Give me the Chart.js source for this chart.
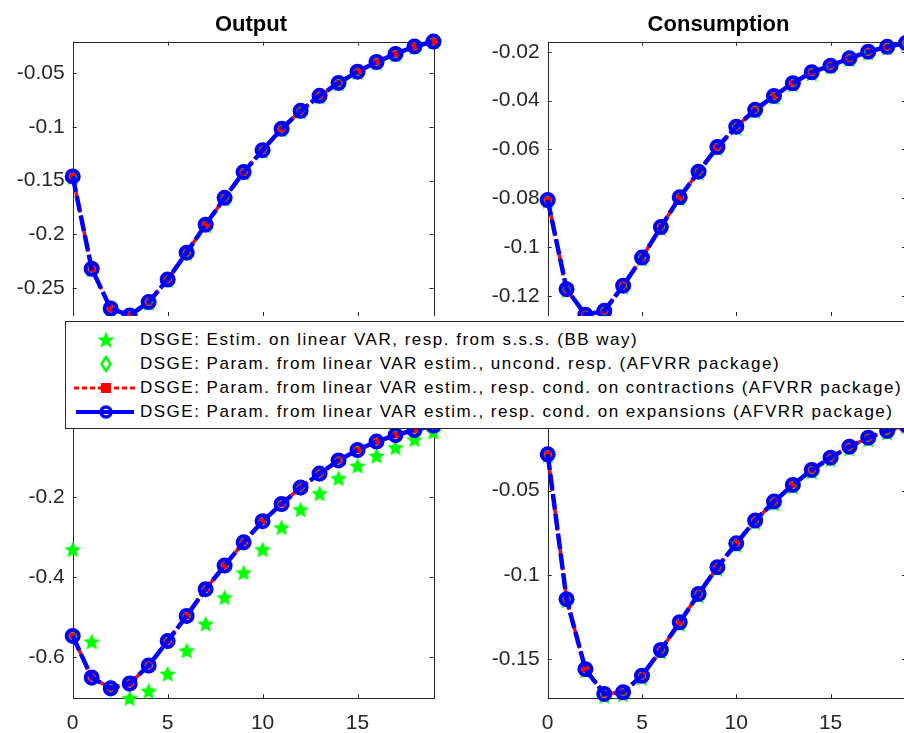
<!DOCTYPE html>
<html>
<head>
<meta charset="utf-8">
<script src="https://cdn.jsdelivr.net/npm/chart.js@4.4.1/dist/chart.umd.min.js"></script>
<style>
body { margin:0; width:904px; height:733px; overflow:hidden; background:#fff; position:relative; font-family:"Liberation Sans", Arial, sans-serif; }
canvas { position:absolute; }
#legend { position:absolute; left:65px; top:321px; width:860px; height:106px; background:#fff; border:1px solid #262626; }
.row { position:absolute; left:0; height:24px; line-height:24px; font-size:17px; letter-spacing:1.5px; color:#000; white-space:nowrap; }
.row svg { position:absolute; left:8px; top:2px; }
.row span { position:absolute; left:74px; }
</style>
</head>
<body>
<canvas id="c1" width="452" height="316" style="left:0;top:0"></canvas>
<canvas id="c2" width="450" height="316" style="left:460px;top:0"></canvas>
<canvas id="c3" width="452" height="333" style="left:0;top:400px"></canvas>
<canvas id="c4" width="450" height="333" style="left:460px;top:400px"></canvas>
<div id="legend"></div>
<script>
// horizons and ticks
const horizon = [0,1,2,3,4,5,6,7,8,9,10,11,12,13,14,15,16,17,18,19];
const xTicks = [0,5,10,15];

const legendLabels = [
  'DSGE: Estim. on linear VAR, resp. from s.s.s. (BB way)',
  'DSGE: Param. from linear VAR estim., uncond. resp. (AFVRR package)',
  'DSGE: Param. from linear VAR estim., resp. cond. on contractions (AFVRR package)',
  'DSGE: Param. from linear VAR estim., resp. cond. on expansions (AFVRR package)'
];

// Output (top left)
const outputTicks = [-0.25,-0.2,-0.15,-0.1,-0.05];
const outputStar = [-0.147,-0.233,-0.270,-0.276,-0.264,-0.243,-0.218,-0.192,-0.167,-0.143,-0.1225,-0.1025,-0.0858,-0.0718,-0.0598,-0.0493,-0.0403,-0.0328,-0.0258,-0.0208];
const outputUncond = [-0.146,-0.232,-0.269,-0.2755,-0.263,-0.242,-0.217,-0.191,-0.166,-0.142,-0.1216,-0.1017,-0.085,-0.071,-0.059,-0.0485,-0.0395,-0.032,-0.025,-0.0205];
const outputContr = [-0.146,-0.232,-0.269,-0.2755,-0.263,-0.242,-0.217,-0.191,-0.166,-0.142,-0.1216,-0.1017,-0.085,-0.071,-0.059,-0.0485,-0.0395,-0.032,-0.025,-0.0205];
const outputExpan = [-0.146,-0.232,-0.269,-0.2755,-0.263,-0.242,-0.217,-0.191,-0.166,-0.142,-0.1216,-0.1017,-0.085,-0.071,-0.059,-0.0485,-0.0395,-0.032,-0.025,-0.0205];

// Consumption (top right)
const consTicks = [-0.12,-0.1,-0.08,-0.06,-0.04,-0.02];
const consStar = [-0.0812,-0.1178,-0.1282,-0.1267,-0.1164,-0.1049,-0.0924,-0.0802,-0.0697,-0.0596,-0.0513,-0.0444,-0.0387,-0.0335,-0.029,-0.0262,-0.0232,-0.0205,-0.0184,-0.0168];
const consUncond = [-0.0807,-0.1172,-0.1277,-0.1261,-0.1158,-0.1043,-0.0918,-0.0796,-0.0691,-0.059,-0.0507,-0.0438,-0.0381,-0.0329,-0.0284,-0.0257,-0.0227,-0.0200,-0.0180,-0.0164];
const consContr = [-0.0807,-0.1172,-0.1277,-0.1261,-0.1158,-0.1043,-0.0918,-0.0796,-0.0691,-0.059,-0.0507,-0.0438,-0.0381,-0.0329,-0.0284,-0.0257,-0.0227,-0.0200,-0.0180,-0.0164];
const consExpan = [-0.0807,-0.1172,-0.1277,-0.1261,-0.1158,-0.1043,-0.0918,-0.0796,-0.0691,-0.059,-0.0507,-0.0438,-0.0381,-0.0329,-0.0284,-0.0257,-0.0227,-0.0200,-0.0180,-0.0164];

// bottom left
const blTicks = [-0.6,-0.4,-0.2];
const blStar = [-0.332,-0.5625,-0.675,-0.704,-0.686,-0.643,-0.585,-0.518,-0.452,-0.39,-0.332,-0.277,-0.232,-0.192,-0.154,-0.123,-0.098,-0.077,-0.057,-0.038];
const blUncond = [-0.550,-0.655,-0.682,-0.669,-0.624,-0.563,-0.500,-0.433,-0.374,-0.316,-0.263,-0.220,-0.179,-0.144,-0.111,-0.085,-0.064,-0.048,-0.035,-0.024];
const blContr = [-0.548,-0.652,-0.679,-0.667,-0.622,-0.561,-0.498,-0.431,-0.372,-0.314,-0.261,-0.218,-0.177,-0.142,-0.109,-0.083,-0.062,-0.046,-0.033,-0.022];
const blExpan = [-0.548,-0.652,-0.679,-0.667,-0.622,-0.561,-0.498,-0.431,-0.372,-0.314,-0.261,-0.218,-0.177,-0.142,-0.109,-0.083,-0.062,-0.046,-0.033,-0.022];

// bottom right
const brTicks = [-0.15,-0.1,-0.05];
const brStar = [-0.0292,-0.1155,-0.1572,-0.1722,-0.1712,-0.1612,-0.1459,-0.1294,-0.1126,-0.0967,-0.0825,-0.069,-0.0577,-0.0478,-0.0389,-0.0316,-0.0251,-0.0197,-0.0157,-0.0120];
const brUncond = [-0.0284,-0.1145,-0.1561,-0.1708,-0.1698,-0.160,-0.1447,-0.1282,-0.1114,-0.0955,-0.0813,-0.0678,-0.0565,-0.0466,-0.0377,-0.0304,-0.0239,-0.0185,-0.0145,-0.0110];
const brContr = [-0.0284,-0.1145,-0.1561,-0.1708,-0.1698,-0.160,-0.1447,-0.1282,-0.1114,-0.0955,-0.0813,-0.0678,-0.0565,-0.0466,-0.0377,-0.0304,-0.0239,-0.0185,-0.0145,-0.0110];
const brExpan = [-0.0284,-0.1145,-0.1561,-0.1708,-0.1698,-0.160,-0.1447,-0.1282,-0.1114,-0.0955,-0.0813,-0.0678,-0.0565,-0.0466,-0.0377,-0.0304,-0.0239,-0.0185,-0.0145,-0.0110];

const FONT = '"Liberation Sans", Arial, Helvetica, sans-serif';
const AXIS = '#262626';

// filled pentagram marker, like matlab 'p'
const starImg = document.createElement('canvas');
starImg.width = 20; starImg.height = 20;
(function () {
  const g = starImg.getContext('2d');
  g.beginPath();
  for (let k = 0; k < 10; k++) {
    const a = -Math.PI / 2 + k * Math.PI / 5;
    const r = k % 2 ? 4.1 : 8.8;
    const px = 10 + r * Math.cos(a), py = 10.6 + r * Math.sin(a);
    if (k) g.lineTo(px, py); else g.moveTo(px, py);
  }
  g.closePath();
  g.fillStyle = '#00ff00';
  g.fill();
})();

const pts = (vals) => vals.map((v, i) => ({ x: horizon[i], y: v }));

const axesBox = {
  id: 'axesBox',
  beforeDatasetsDraw(chart) {
    const { ctx, chartArea: a, scales } = chart;
    const yt = chart.options.plugins.axesBox.yTicks;
    ctx.save();
    ctx.strokeStyle = AXIS;
    ctx.lineWidth = 1;
    ctx.strokeRect(Math.round(a.left) + 0.5, Math.round(a.top) + 0.5, Math.round(a.right - a.left), Math.round(a.bottom - a.top));
    ctx.beginPath();
    xTicks.forEach(v => {
      const px = Math.round(scales.x.getPixelForValue(v)) + 0.5;
      ctx.moveTo(px, a.bottom); ctx.lineTo(px, a.bottom - 4);
      ctx.moveTo(px, a.top); ctx.lineTo(px, a.top + 4);
    });
    yt.forEach(v => {
      const py = Math.round(scales.y.getPixelForValue(v)) + 0.5;
      ctx.moveTo(a.left, py); ctx.lineTo(a.left + 4, py);
      ctx.moveTo(a.right, py); ctx.lineTo(a.right - 4, py);
    });
    ctx.stroke();
    const t = chart.options.plugins.axesBox;
    if (t.title) {
      ctx.fillStyle = '#000';
      ctx.font = 'bold 22px ' + FONT;
      ctx.textAlign = 'center';
      ctx.textBaseline = 'middle';
      ctx.fillText(t.title, t.titleX, 25);
    }
    ctx.restore();
  }
};

const makePanel = (id, p) => {
  new Chart(document.getElementById(id), {
    type: 'line',
    data: {
      datasets: [
        { data: pts(p.expan), borderColor: '#0000ff', borderWidth: 4.5, borderDash: [16, 4],
          pointStyle: 'circle', pointRadius: 6, pointBorderWidth: 4, pointBorderColor: '#0000ff',
          pointBackgroundColor: 'rgba(0,0,0,0)', order: 1, clip: false },
        { data: pts(p.contr), borderColor: '#ff0000', borderWidth: 3.5, borderDash: [5, 3],
          pointStyle: 'rect', pointRadius: 4, pointBorderWidth: 1, pointBorderColor: '#ff0000',
          pointBackgroundColor: '#ff0000', order: 2, clip: false },
        { data: pts(p.uncond), showLine: false, pointStyle: 'rectRot', pointRadius: 6,
          pointBorderWidth: 2.5, pointBorderColor: '#00ff00', pointBackgroundColor: 'rgba(0,0,0,0)',
          order: 3, clip: false },
        { data: pts(p.star), showLine: false, pointStyle: starImg, pointRadius: 10, order: 4, clip: false }
      ]
    },
    options: {
      responsive: false,
      animation: false,
      devicePixelRatio: 1,
      events: [],
      layout: { autoPadding: false, padding: { left: 0, right: p.padRight, top: p.padTop, bottom: 0 } },
      plugins: {
        legend: { display: false },
        tooltip: { enabled: false },
        axesBox: { yTicks: p.yTicks, title: p.title, titleX: p.titleX }
      },
      scales: {
        x: {
          type: 'linear', min: 0, max: 19,
          grid: { display: false, drawTicks: false },
          border: { display: false },
          afterBuildTicks: s => { s.ticks = xTicks.map(v => ({ value: v })); },
          ticks: { display: p.showX, padding: 12, color: AXIS, font: { size: 21, family: FONT } },
          afterFit: s => { s.height = p.xAxisH; s.paddingLeft = 0; s.paddingRight = 0; }
        },
        y: {
          type: 'linear', min: p.yMin, max: p.yMax,
          grid: { display: false, drawTicks: false },
          border: { display: false },
          afterBuildTicks: s => { s.ticks = p.yTicks.map(v => ({ value: v })); },
          ticks: { padding: 8, color: AXIS, font: { size: 21, family: FONT }, callback: v => String(v) },
          afterFit: s => { s.width = p.yAxisW; s.paddingTop = 0; s.paddingBottom = 0; }
        }
      }
    },
    plugins: [axesBox]
  });
};

makePanel('c1', { title: 'Output', titleX: 251, yMin: -0.276, yMax: -0.0205, yTicks: outputTicks,
  yAxisW: 72.7, padRight: 18.5, padTop: 41.6, xAxisH: 0, showX: false,
  star: outputStar, uncond: outputUncond, contr: outputContr, expan: outputExpan });
makePanel('c2', { title: 'Consumption', titleX: 258.5, yMin: -0.1282, yMax: -0.0159, yTicks: consTicks,
  yAxisW: 87.7, padRight: 4, padTop: 41.7, xAxisH: 0, showX: false,
  star: consStar, uncond: consUncond, contr: consContr, expan: consExpan });
makePanel('c3', { title: '', titleX: 0, yMin: -0.704, yMax: -0.018, yTicks: blTicks,
  yAxisW: 72.7, padRight: 18.5, padTop: 24, xAxisH: 34.7, showX: true,
  star: blStar, uncond: blUncond, contr: blContr, expan: blExpan });
makePanel('c4', { title: '', titleX: 0, yMin: -0.1734, yMax: -0.0104, yTicks: brTicks,
  yAxisW: 87.7, padRight: 4, padTop: 24, xAxisH: 34.7, showX: true,
  star: brStar, uncond: brUncond, contr: brContr, expan: brExpan });

// legend drawn over the middle of the figure
const samples = [
  '<polygon points="32,1.5 34.4,7.6 40.6,7.6 35.8,11.6 37.6,17.8 32,14.3 26.4,17.8 28.2,11.6 23.4,7.6 29.6,7.6" fill="#00ff00"/>',
  '<polygon points="32,3 36.5,10 32,17 27.5,10" fill="none" stroke="#00ff00" stroke-width="2.5"/>',
  '<line x1="0" y1="10" x2="62" y2="10" stroke="#ff0000" stroke-width="3" stroke-dasharray="5 3"/><rect x="27" y="5" width="10" height="10" fill="#ff0000"/>',
  '<line x1="2" y1="10" x2="60" y2="10" stroke="#0000ff" stroke-width="4"/><circle cx="32" cy="10" r="5" fill="none" stroke="#0000ff" stroke-width="3.5"/>'
];
const legendBox = document.getElementById('legend');
legendLabels.forEach((txt, i) => {
  const row = document.createElement('div');
  row.className = 'row';
  row.style.top = (6 + 24 * i) + 'px';
  row.innerHTML = '<svg width="64" height="20">' + samples[i] + '</svg><span></span>';
  row.querySelector('span').textContent = txt;
  legendBox.appendChild(row);
});
</script>
</body>
</html>
